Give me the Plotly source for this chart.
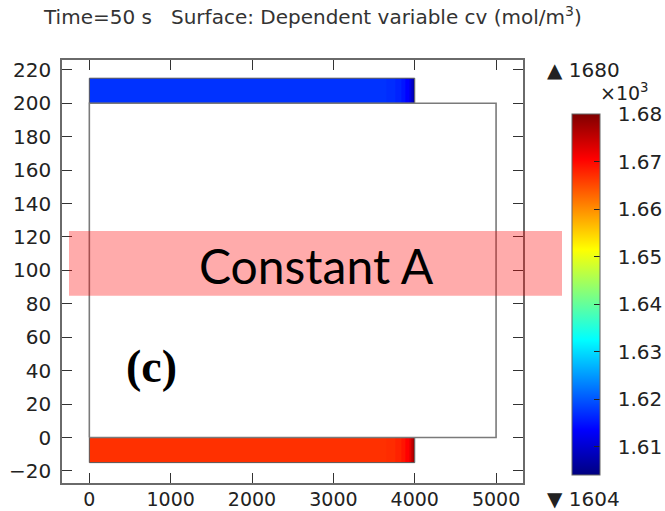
import plotly.graph_objects as go

# ---- data ----
domain_x = [0, 5000, 5000, 0, 0]
domain_y = [0, 0, 200, 200, 0]

# electrode column edges (x) and concentration values (mol/m^3)
elec_x_edges = [0, 3650, 3760, 3840, 3890, 3930, 3960, 3985, 4000]
top_elec_y = [200, 215]
top_elec_cv = [1617.2, 1616.8, 1616.0, 1615.0, 1613.5, 1611.5, 1609.0, 1606.0]
bot_elec_y = [-15, 0]
bot_elec_cv = [1666.9, 1667.2, 1668.0, 1669.0, 1670.5, 1672.5, 1675.5, 1678.5]

cv_min, cv_max = 1604, 1680
cbar_ticks = [1610, 1620, 1630, 1640, 1650, 1660, 1670, 1680]
cbar_ticktext = ["1.61", "1.62", "1.63", "1.64", "1.65", "1.66", "1.67", "1.68"]
x_ticks = [0, 1000, 2000, 3000, 4000, 5000]
y_ticks = [-20, 0, 20, 40, 60, 80, 100, 120, 140, 160, 180, 200, 220]

jet = [[0.0, "rgb(0,0,128)"], [0.125, "rgb(0,0,255)"], [0.375, "rgb(0,255,255)"],
       [0.625, "rgb(255,255,0)"], [0.875, "rgb(255,0,0)"], [1.0, "rgb(128,0,0)"]]

fig = go.Figure()

fig.add_trace(go.Heatmap(x=elec_x_edges, y=top_elec_y, z=[top_elec_cv],
                         coloraxis="coloraxis", hoverinfo="skip"))
fig.add_trace(go.Heatmap(x=elec_x_edges, y=bot_elec_y, z=[bot_elec_cv],
                         coloraxis="coloraxis", hoverinfo="skip"))

# outlines
ex = [elec_x_edges[0], elec_x_edges[-1], elec_x_edges[-1], elec_x_edges[0], elec_x_edges[0]]
for ys in (top_elec_y, bot_elec_y):
    fig.add_trace(go.Scatter(x=ex, y=[ys[0], ys[0], ys[1], ys[1], ys[0]], mode="lines",
                             line=dict(color="#555555", width=1), showlegend=False,
                             hoverinfo="skip"))
fig.add_trace(go.Scatter(x=domain_x, y=domain_y, mode="lines",
                         line=dict(color="#7a7a7a", width=1.6), showlegend=False,
                         hoverinfo="skip"))

W, H = 665, 511
L, R, T, B = 62, 523, 60, 483
pw, ph = R - L, B - T
def px(x):
    return (x - L) / pw
def py(y):
    return (B - y) / ph

tickfont = dict(family="DejaVu Sans", size=20, color="#222222")
xtickfont = dict(family="DejaVu Sans", size=19, color="#222222")
NB = "\u00a0"

fig.update_layout(
    width=W, height=H,
    margin=dict(l=L, r=W - R, t=T, b=H - B, pad=0, autoexpand=False),
    paper_bgcolor="white", plot_bgcolor="white",
    showlegend=False,
    coloraxis=dict(
        colorscale=jet, cmin=cv_min, cmax=cv_max,
        colorbar=dict(
            x=px(571.7), xanchor="left", xref="paper",
            y=py(114.3), yanchor="top", yref="paper",
            thickness=28, thicknessmode="pixels",
            len=360.7, lenmode="pixels",
            xpad=0, ypad=0,
            outlinecolor="#666666", outlinewidth=1,
            tickvals=cbar_ticks, ticktext=[NB + NB + t for t in cbar_ticktext],
            ticks="inside", ticklen=6, tickcolor="#222222", tickwidth=1,
            tickfont=tickfont,
        ),
    ),
    xaxis=dict(
        range=[-336, 5331], tickvals=x_ticks, showgrid=False, zeroline=False,
        showline=True, linecolor="#6a6a6a", linewidth=1.5, mirror="ticks",
        ticks="inside", ticklen=10, tickcolor="#333333", tickwidth=1.2,
        tickfont=xtickfont, ticklabelstandoff=-2,
    ),
    yaxis=dict(
        range=[-27.2, 225.9], tickvals=y_ticks, showgrid=False, zeroline=False,
        showline=True, linecolor="#6a6a6a", linewidth=1.5, mirror="ticks",
        ticks="inside", ticklen=10, tickcolor="#333333", tickwidth=1.2,
        tickfont=tickfont, ticklabelstandoff=5,
    ),
)

fig.add_shape(type="rect", xref="paper", yref="paper",
              x0=px(69), x1=px(562), y0=py(295.7), y1=py(231),
              fillcolor="rgba(255,0,0,0.33)", line=dict(width=0), layer="above")

anns = [
    dict(text="Time=50 s   Surface: Dependent variable cv (mol/m<sup>3</sup>)",
         x=px(312), y=py(16), font=dict(family="DejaVu Sans", size=20, color="#333333")),
    dict(text="Constant A", x=px(316), y=py(265),
         font=dict(family="Lato", size=48, color="#000000")),
    dict(text="<b>(c)</b>", x=px(151), y=py(366),
         font=dict(family="Liberation Serif", size=46, color="#000000")),
    dict(text="▲ 1680", x=px(545), y=py(70), xanchor="left",
         font=dict(family="DejaVu Sans", size=20, color="#222222")),
    dict(text="×10<sup>3</sup>", x=px(598), y=py(92), xanchor="left",
         font=dict(family="DejaVu Sans", size=19, color="#222222")),
    dict(text="▼ 1604", x=px(545), y=py(499), xanchor="left",
         font=dict(family="DejaVu Sans", size=20, color="#222222")),
]
for a in anns:
    a.setdefault("xanchor", "center")
    fig.add_annotation(xref="paper", yref="paper", showarrow=False, yanchor="middle", **a)

fig.write_html("out.html")
